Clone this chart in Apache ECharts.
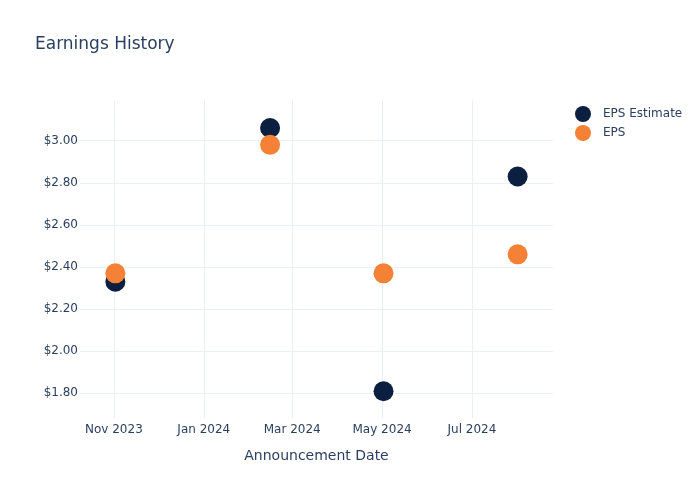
<!DOCTYPE html>
<html>
<head>
<meta charset="utf-8">
<script src="https://cdn.jsdelivr.net/npm/echarts@6/dist/echarts.min.js"></script>
<style>html,body{margin:0;padding:0;background:#fff}#c{width:700px;height:500px}</style>
</head>
<body>
<div id="c"></div>
<script>
var dates = ['2023-11-02', '2024-02-15', '2024-05-02', '2024-08-01'];
var epsEstimate = [2.33, 3.06, 1.81, 2.83];
var eps = [2.37, 2.98, 2.37, 2.46];
var xTickDates = ['2023-11-01', '2024-01-01', '2024-03-01', '2024-05-01', '2024-07-01'];
var xTickLabels = ['Nov 2023', 'Jan 2024', 'Mar 2024', 'May 2024', 'Jul 2024'];
var yTicks = [1.8, 2.0, 2.2, 2.4, 2.6, 2.8, 3.0];

function ts(s) { var p = s.split('-'); return Date.UTC(+p[0], +p[1] - 1, +p[2]); }
var xTickTs = xTickDates.map(ts);
var font = 'DejaVu Sans';
var txt = '#2a3f5f';
var grid = '#ebf0f8';

var chart = echarts.init(document.getElementById('c'), null, {renderer: 'canvas'});
chart.setOption({
  animation: false,
  backgroundColor: '#fff',
  textStyle: {fontFamily: font},
  title: {
    text: 'Earnings History', left: 30, top: 31,
    textStyle: {fontFamily: font, fontSize: 17, fontWeight: 'normal', color: txt}
  },
  legend: {
    orient: 'vertical', left: 570, top: 101, itemGap: 3,
    icon: 'circle', itemWidth: 16, itemHeight: 16,
    textStyle: {fontFamily: font, fontSize: 12, color: txt, padding: [0, 0, 0, 7]}
  },
  grid: {left: 80, right: 147, top: 100, bottom: 82, containLabel: false},
  xAxis: {
    type: 'value',
    min: ts('2023-10-09'), max: ts('2024-08-25'),
    name: 'Announcement Date', nameLocation: 'middle', nameGap: 31,
    nameTextStyle: {fontFamily: font, fontSize: 14, color: txt},
    axisLine: {show: false},
    axisTick: {show: false, customValues: xTickTs},
    axisLabel: {
      customValues: xTickTs, color: txt, fontFamily: font, fontSize: 12, margin: 6,
      formatter: function (v) { var i = xTickTs.indexOf(v); return i >= 0 ? xTickLabels[i] : ''; }
    },
    splitLine: {show: true, lineStyle: {color: grid, width: 1}}
  },
  yAxis: {
    type: 'value', min: 1.683, max: 3.193,
    axisLine: {show: false},
    axisTick: {show: false, customValues: yTicks},
    axisLabel: {
      customValues: yTicks, color: txt, fontFamily: font, fontSize: 12, margin: 2,
      formatter: function (v) { return '$' + v.toFixed(2); }
    },
    splitLine: {show: true, lineStyle: {color: grid, width: 1}}
  },
  series: [
    {
      name: 'EPS Estimate', type: 'scatter', symbolSize: 20,
      itemStyle: {color: '#0b1f40', opacity: 1},
      data: dates.map(function (d, i) { return [ts(d), epsEstimate[i]]; })
    },
    {
      name: 'EPS', type: 'scatter', symbolSize: 20,
      itemStyle: {color: '#f58136', opacity: 1},
      data: dates.map(function (d, i) { return [ts(d), eps[i]]; })
    }
  ]
});
</script>
</body>
</html>
